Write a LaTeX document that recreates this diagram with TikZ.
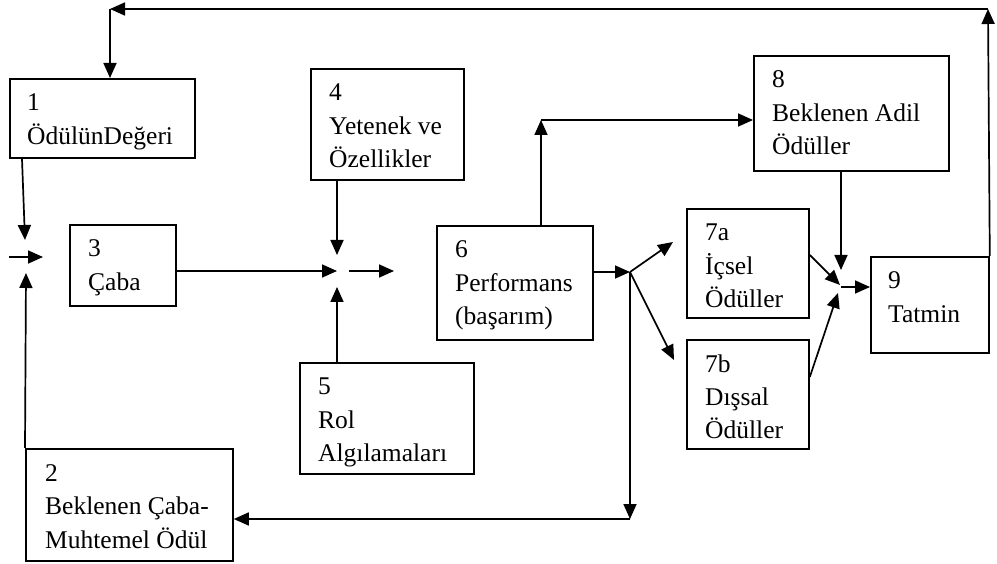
\documentclass[tikz,border=0pt]{standalone}
\usepackage{fontspec}
\setmainfont{Liberation Serif}
\usetikzlibrary{arrows.meta,calc}

\tikzset{
  box/.style={draw, line width=1.8pt, inner sep=0pt, anchor=north west},
  txt/.style={anchor=base west, inner sep=0pt, font=\fontsize{25.5}{33.5}\selectfont},
  conn/.style={line width=1.7pt},
  arr/.style={conn, -{Triangle[length=15pt,width=13pt]}},
}
% a box: name, left, top, width, height
\newcommand{\mybox}[5]{\node[box, minimum width=#4pt, minimum height=#5pt] (#1) at (#2,#3) {};}
\newcommand{\mytext}[3]{\node[txt] (#1t) at ($(#1.north west)+(#2,33)$) {\begin{tabular}[t]{@{}l@{}}#3\end{tabular}};}

\begin{document}
\begin{tikzpicture}[x=1pt, y=-1pt]
\useasboundingbox (0,0) rectangle (997,564);

% boxes
\mybox{b1}{9}{78}{185}{79}
\mybox{b2}{25}{448}{207}{112}
\mybox{b3}{69}{224}{106}{81}
\mybox{b4}{310}{68}{153}{111}
\mybox{b5}{299}{362}{174}{111}
\mybox{b6}{436}{225}{156}{114}
\mybox{b7a}{686}{208}{122}{109}
\mybox{b7b}{686}{339}{122}{109}
\mybox{b8}{753}{55}{195}{115}
\mybox{b9}{870}{256}{118}{96}

% texts
\mytext{b1}{18}{1\\ÖdülünDeğeri}
\mytext{b2}{20}{2\\Beklenen Çaba-\\Muhtemel Ödül}
\mytext{b3}{19}{3\\Çaba}
\mytext{b4}{19}{4\\Yetenek ve\\Özellikler}
\mytext{b5}{19}{5\\Rol\\Algılamaları}
\mytext{b6}{19}{6\\Performans\\(başarım)}
\mytext{b7a}{19}{7a\\İçsel\\Ödüller}
\mytext{b7b}{19}{7b\\Dışsal\\Ödüller}
\mytext{b8}{19}{8\\Beklenen Adil\\Ödüller}
\mytext{b9}{18}{9\\Tatmin}

% junction points
\coordinate (jA1) at (25,240);
\coordinate (jA0) at (9,257);
\coordinate (jA2) at (43,257);
\coordinate (jA3) at (26,273);
\coordinate (jB1) at (337,255);
\coordinate (jB2) at (337,271);
\coordinate (jB3) at (337,287);
\coordinate (jB4) at (349,271);
\coordinate (jB5) at (394,271);
\coordinate (jP) at (630,272);
\coordinate (jP7a) at (673,242);
\coordinate (jP7b) at (674,360);
\coordinate (jPd) at (630,519);
\coordinate (jU) at (541,120);
\coordinate (jS1) at (840,285);
\coordinate (jS2) at (838,293);
\coordinate (jS3) at (841,270);
\coordinate (jS0) at (841,287);
\coordinate (jTR) at (988,9);
\coordinate (jTL) at (110,9);

% into box 3
\draw[arr] ($(b1.south west)+(13,0)$) -- (jA1);
\draw[arr] (jA0) -- (jA2);
\draw[arr] (b2.north west) -- (jA3);

% into box 6
\draw[arr] (b4.south -| jB1) -- (jB1);
\draw[arr] (b3.east |- jB2) -- (jB2);
\draw[arr] (b5.north -| jB3) -- (jB3);
\draw[arr] (jB4) -- (jB5);

% from box 6
\draw[arr] (b6.east |- jP) -- (jP);
\draw[arr] (jP) -- (jP7a);
\draw[arr] (jP) -- (jP7b);
\draw[arr] (jP) -- (jPd);
\draw[arr] (jPd) -- (b2.east |- jPd);
\draw[arr] (b6.north -| jU) -- (jU);
\draw[arr] (jU) -- (b8.west |- jU);

% into box 9
\draw[arr] ($(b7a.north east)+(0,47)$) -- (jS1);
\draw[arr] ($(b7b.north east)+(0,38)$) -- (jS2);
\draw[arr] (b8.south -| jS3) -- (jS3);
\draw[arr] (jS0) -- (b9.west |- jS0);

% feedback loop to box 1
\draw[arr] (b9.north east) -- (jTR);
\draw[arr] (jTR) -- (jTL);
\draw[arr] (jTL) -- (b1.north -| jTL);
\end{tikzpicture}
\end{document}
